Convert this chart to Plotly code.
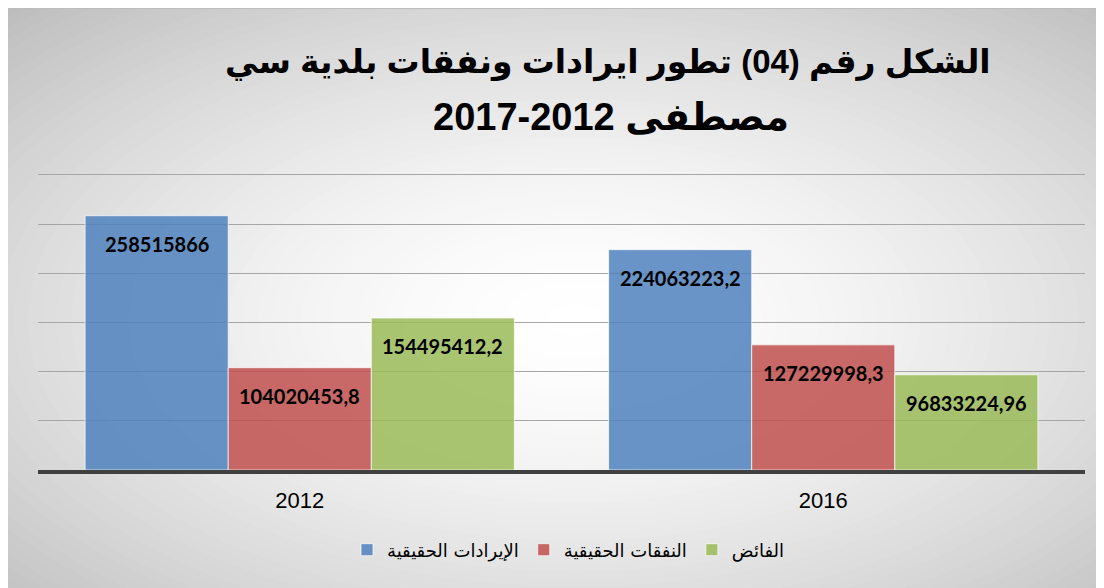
import plotly.graph_objects as go

# ---------------- data ----------------
years = ["2012", "2016"]
series_names = ["الإيرادات الحقيقية", "النفقات الحقيقية", "الفائض"]
revenues = [258515866, 224063223.2]
expenses = [104020453.8, 127229998.3]
surplus = [154495412.2, 96833224.96]
labels_rev = ["258515866", "224063223,2"]
labels_exp = ["104020453,8", "127229998,3"]
labels_sur = ["154495412,2", "96833224,96"]
title_line1 = "الشكل رقم (04) تطور ايرادات ونفقات بلدية سي"
title_line2 = "مصطفى 2012-2017"

# ---------------- layout constants ----------------
W, H = 1104, 588
ML, MR, MT, MB = 30, 27, 164, 126
PW, PH = W - ML - MR, H - MT - MB
BARGAP = 0.18
Y_MAX = 303000000

colors = ["rgba(79,129,189,0.85)", "rgba(192,80,77,0.85)", "rgba(155,187,89,0.85)"]
values = [revenues, expenses, surplus]
labels = [labels_rev, labels_exp, labels_sur]


def px_x(px):
    return (px - ML) / PW


def px_y(py):
    return (H - MB - py) / PH


fig = go.Figure()
for name, vals, col in zip(series_names, values, colors):
    fig.add_trace(go.Bar(
        x=years, y=vals, name=name,
        marker=dict(color=col, line=dict(color="rgba(255,255,255,0.7)", width=1)),
    ))

# data labels (x given as category index)
bar_px = PW / len(years) * (1 - BARGAP) / len(series_names)
annotations = []
for i, (vals, labs) in enumerate(zip(values, labels)):
    for j, (v, lab) in enumerate(zip(vals, labs)):
        annotations.append(dict(
            x=j, y=v, xref="x", yref="y", text=lab, showarrow=False,
            xshift=(i - 1) * bar_px, yshift=-28,
            font=dict(family="Lato", size=20, color="black", weight="bold"),
        ))

# title as two lines
title_font = dict(family="Liberation Sans, DejaVu Sans", color="black", weight="bold")
annotations.append(dict(x=px_x(600), y=px_y(54), xref="paper", yref="paper",
                        text=title_line1, showarrow=False, xanchor="center", yanchor="middle",
                        font=dict(size=33, **title_font)))
annotations.append(dict(x=px_x(603), y=px_y(109), xref="paper", yref="paper",
                        text=title_line2, showarrow=False, xanchor="center", yanchor="middle",
                        font=dict(size=38, **title_font)))

# background radial gradient (concentric ellipses)
shapes = []
cx, cy = 567, 312
rx, ry = 775, 410
N = 70
tmax = 1.3
for k in range(N + 1):
    t = tmax * (N - k) / N
    b = 255 - 60 * (t ** 1.6)
    b = max(185, min(255, b))
    c = "rgb(%d,%d,%d)" % (round(b), round(b), round(b))
    if k == 0:
        shapes.append(dict(type="rect", xref="paper", yref="paper",
                           x0=px_x(0), x1=px_x(W), y0=px_y(H), y1=px_y(0),
                           fillcolor=c, line=dict(width=0), layer="below"))
        continue
    shapes.append(dict(type="circle", xref="paper", yref="paper",
                       x0=px_x(cx - rx * t), x1=px_x(cx + rx * t),
                       y0=px_y(cy + ry * t), y1=px_y(cy - ry * t),
                       fillcolor=c, line=dict(width=0), layer="below"))
shapes.append(dict(type="line", xref="paper", yref="paper",
                   x0=px_x(0), x1=px_x(W), y0=px_y(0.5), y1=px_y(0.5),
                   line=dict(color="#bdbdbd", width=1), layer="below"))

fig.update_layout(
    width=W, height=H,
    margin=dict(l=ML, r=MR, t=MT, b=MB, pad=0),
    paper_bgcolor="white",
    plot_bgcolor="rgba(0,0,0,0)",
    barmode="group", bargap=BARGAP, bargroupgap=0,
    xaxis=dict(type="category", range=[-0.5, 1.5], showline=True, linecolor="#404040",
               linewidth=4, ticks="",
               tickfont=dict(family="Liberation Sans", size=22, color="black"),
               showgrid=False, ticklabelstandoff=8),
    yaxis=dict(range=[0, Y_MAX], dtick=50000000, showticklabels=False,
               showgrid=True, gridcolor="#a6a6a6", gridwidth=1.3, zeroline=False, ticks=""),
    legend=dict(orientation="h", x=px_x(560), xanchor="center", y=px_y(542), yanchor="middle",
                font=dict(family="DejaVu Sans", size=18, color="black"),
                bgcolor="rgba(0,0,0,0)"),
    annotations=annotations,
    shapes=shapes,
    showlegend=True,
)

fig.write_html("out.html")
